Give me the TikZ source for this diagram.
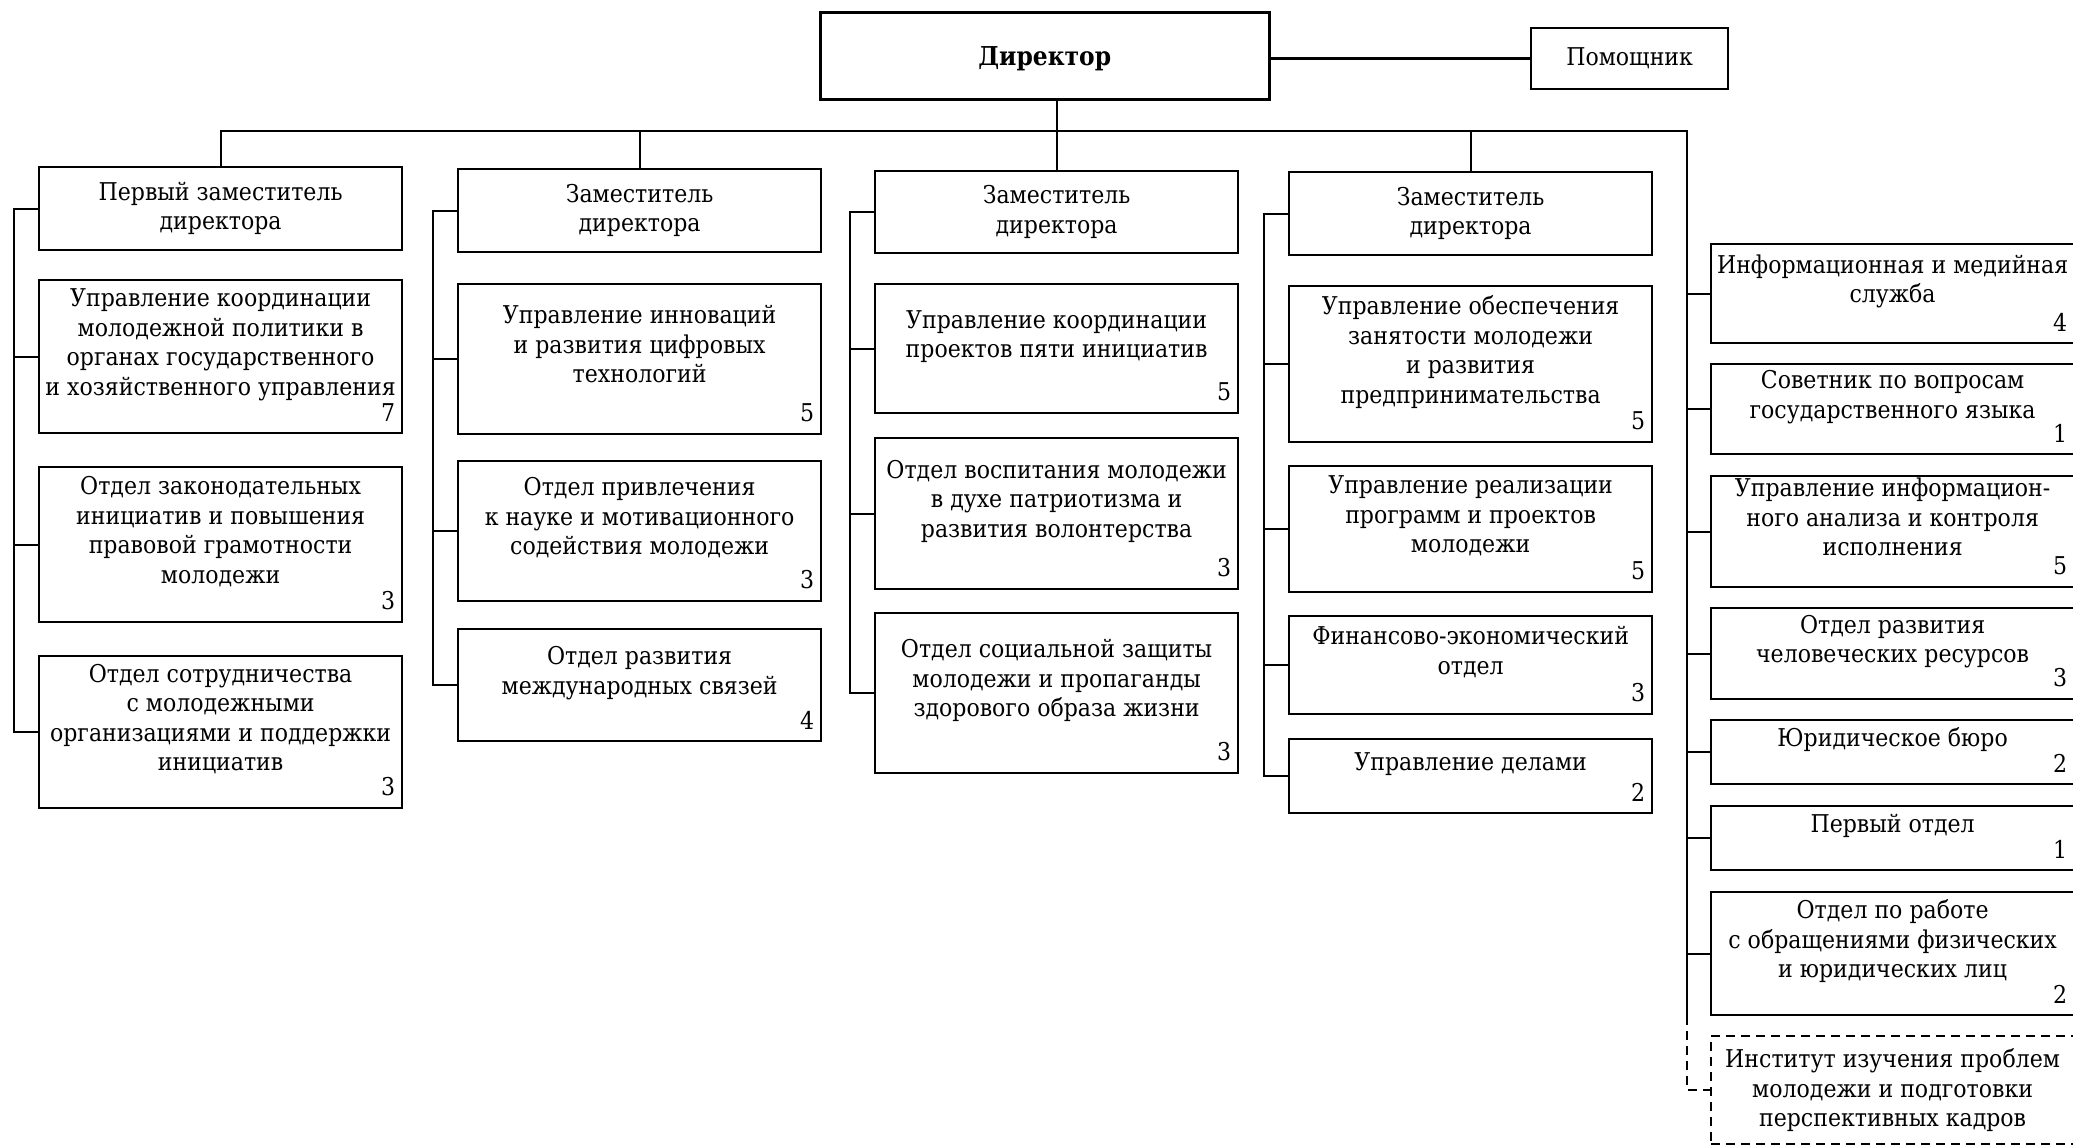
\documentclass[tikz,border=0pt]{standalone}
\usepackage{fontspec}
\setmainfont{DejaVu Serif}[FakeStretch=0.9]
\begin{document}
\begin{tikzpicture}[x=1pt, y=-1pt, line width=2.2pt,
    every node/.style={font=\fontsize{24.5}{29.5}\selectfont},
    box/.style={draw, align=center, anchor=north west, minimum width=363, inner sep=2pt},
    num/.style={anchor=south east, inner xsep=7pt, inner ysep=12pt},
    unit/.style={box, label={[num]south east:#1}},
    dashbox/.style={box, dash pattern=on 9pt off 6pt}]
  \fill[white] (0,0) rectangle (2073,1145);
  \useasboundingbox (0,0) rectangle (2073,1145);
  % top
  \node[draw, anchor=north west, minimum width=449, minimum height=87, line width=2.6pt, text depth=0pt,
        font=\bfseries\fontsize{26}{30}\selectfont] (dir) at (819,11) {Директор};
  \node[draw, anchor=north west, minimum width=197, minimum height=61] (pom) at (1530,27) {Помощник};
  % deputies
  \node[box, minimum height=83] (d1) at (38,166) {Первый заместитель\\директора};
  \node[box, minimum height=83] (d2) at (457,168) {Заместитель\\директора};
  \node[box, minimum height=82] (d3) at (874,170) {Заместитель\\директора};
  \node[box, minimum height=83] (d4) at (1288,171) {Заместитель\\директора};
  % column 1
  \node[unit=7, minimum height=153] (s11) at (38,279) {Управление координации\\молодежной политики в\\органах государственного\\и хозяйственного управления\\\mbox{}};
  \node[unit=3, minimum height=155] (s12) at (38,466) {Отдел законодательных\\инициатив и повышения\\правовой грамотности\\молодежи\\\mbox{}};
  \node[unit=3, minimum height=152] (s13) at (38,655) {Отдел сотрудничества\\с молодежными\\организациями и поддержки\\инициатив\\\mbox{}};
  % column 2
  \node[unit=5, minimum height=150] (s21) at (457,283) {Управление инноваций\\и развития цифровых\\технологий\\\mbox{}};
  \node[unit=3, minimum height=140] (s22) at (457,460) {Отдел привлечения\\к науке и мотивационного\\содействия молодежи\\\mbox{}};
  \node[unit=4, minimum height=112] (s23) at (457,628) {Отдел развития\\международных связей\\\mbox{}};
  % column 3
  \node[unit=5, minimum height=129] (s31) at (874,283) {Управление координации\\проектов пяти инициатив\\\mbox{}};
  \node[unit=3, minimum height=151] (s32) at (874,437) {Отдел воспитания молодежи\\в духе патриотизма и\\развития волонтерства\\\mbox{}};
  \node[unit=3, minimum height=160] (s33) at (874,612) {Отдел социальной защиты\\молодежи и пропаганды\\здорового образа жизни\\\mbox{}};
  % column 4
  \node[unit=5, minimum height=156] (s41) at (1288,285) {Управление обеспечения\\занятости молодежи\\и развития\\предпринимательства\\\mbox{}};
  \node[unit=5, minimum height=126] (s42) at (1288,465) {Управление реализации\\программ и проектов\\молодежи\\\mbox{}};
  \node[unit=3, minimum height=98] (s43) at (1288,615) {Финансово-экономический\\отдел\\\mbox{}};
  \node[unit=2, minimum height=74] (s44) at (1288,738) {Управление делами\\\mbox{}};
  % right column
  \node[unit=4, minimum height=99] (r1) at (1710,243) {Информационная и медийная\\служба\\\mbox{}};
  \node[unit=1, minimum height=90] (r2) at (1710,363) {Советник по вопросам\\государственного языка\\\mbox{}};
  \node[unit=5, minimum height=111] (r3) at (1710,475) {Управление информацион-\\ного анализа и контроля\\исполнения\\\mbox{}};
  \node[unit=3, minimum height=91] (r4) at (1710,607) {Отдел развития\\человеческих ресурсов\\\mbox{}};
  \node[unit=2, minimum height=64] (r5) at (1710,719) {Юридическое бюро\\\mbox{}};
  \node[unit=1, minimum height=64] (r6) at (1710,805) {Первый отдел\\\mbox{}};
  \node[unit=2, minimum height=123] (r7) at (1710,891) {Отдел по работе\\с обращениями физических\\и юридических лиц\\\mbox{}};
  \node[dashbox, minimum height=108] (r8) at (1710,1035) {Институт изучения проблем\\молодежи и подготовки\\перспективных кадров};
  % links
  \coordinate (bus) at (1687,131);
  \draw (pom.west -| dir.east) -- (pom.west);
  \draw (d3.north) -- (d3.north |- dir.south);
  \draw (d1.north) |- (bus) -- (bus |- r7.south);
  \draw (d2.north) -- (d2.north |- bus);
  \draw (d4.north) -- (d4.north |- bus);
  \foreach \d/\s in {d1/s13, d2/s23, d3/s33, d4/s44}
    \draw (\d.west) -- ++(-24,0) |- (\s.west);
  \foreach \s in {s11,s12,s21,s22,s31,s32,s41,s42,s43}
    \draw (\s.west) -- ++(-24,0);
  \foreach \r in {r1,r2,r3,r4,r5,r6,r7}
    \draw (\r.west) -- (\r.west -| bus);
  \draw[dash pattern=on 9pt off 6pt] (bus |- r7.south) |- (r8.west);
\end{tikzpicture}
\end{document}
